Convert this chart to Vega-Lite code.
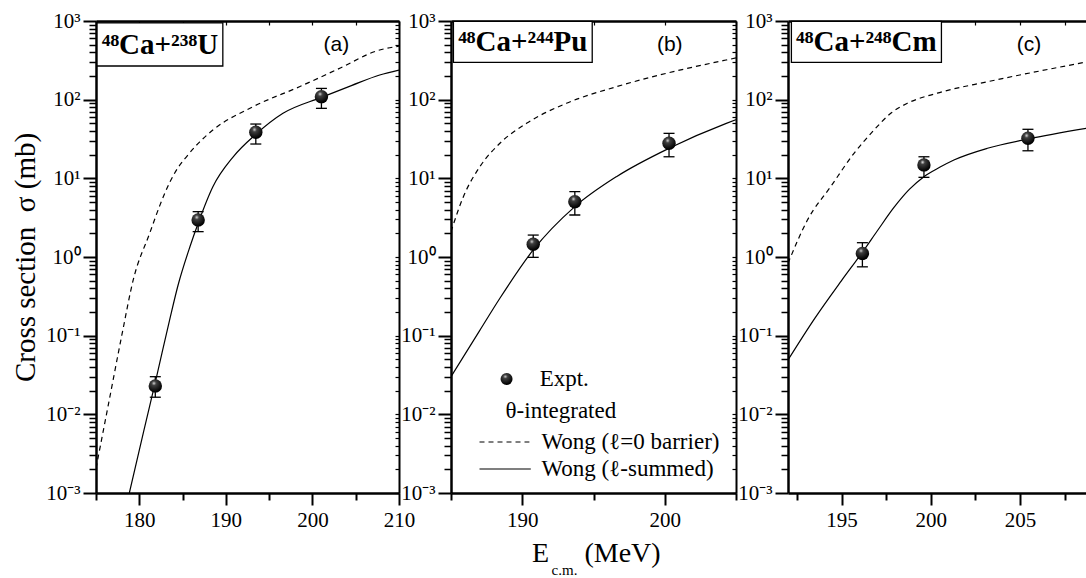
{
  "$schema": "https://vega.github.io/schema/vega-lite/v6.json",
  "autosize": {"type": "pad"},
  "padding": {"left": 11, "top": 10, "right": 0, "bottom": 0},
  "background": "white",
  "config": {
    "view": {"stroke": null},
    "font": "Liberation Serif",
    "axis": {"domainColor": "black", "tickColor": "black", "labelColor": "black", "titleColor": "black", "grid": false, "labelFont": "Liberation Serif", "labelFontSize": 21, "titleFont": "Liberation Serif", "titleFontWeight": "normal", "titleFontSize": 28, "labelFlush": false, "labelOverlap": false, "labelBound": false}
  },
  "datasets": {
    "curves": [
      {"panel": "a", "model": "l0", "E": 175.0, "sigma": 0.00206},
      {"panel": "a", "model": "l0", "E": 176.5, "sigma": 0.0146},
      {"panel": "a", "model": "l0", "E": 178.0, "sigma": 0.1035},
      {"panel": "a", "model": "l0", "E": 179.3, "sigma": 0.511},
      {"panel": "a", "model": "l0", "E": 181.2, "sigma": 2.0},
      {"panel": "a", "model": "l0", "E": 182.4, "sigma": 4.6},
      {"panel": "a", "model": "l0", "E": 183.54, "sigma": 9.0},
      {"panel": "a", "model": "l0", "E": 184.5, "sigma": 13.8},
      {"panel": "a", "model": "l0", "E": 185.45, "sigma": 18.8},
      {"panel": "a", "model": "l0", "E": 186.9, "sigma": 28.5},
      {"panel": "a", "model": "l0", "E": 188.5, "sigma": 41.1},
      {"panel": "a", "model": "l0", "E": 193.15, "sigma": 81.5},
      {"panel": "a", "model": "l0", "E": 198.5, "sigma": 146},
      {"panel": "a", "model": "l0", "E": 203.0, "sigma": 246},
      {"panel": "a", "model": "l0", "E": 207.77, "sigma": 428},
      {"panel": "a", "model": "l0", "E": 210.0, "sigma": 479},
      {"panel": "a", "model": "sum", "E": 178.85, "sigma": 0.001},
      {"panel": "a", "model": "sum", "E": 180.5, "sigma": 0.00603},
      {"panel": "a", "model": "sum", "E": 182.0, "sigma": 0.0302},
      {"panel": "a", "model": "sum", "E": 183.5, "sigma": 0.158},
      {"panel": "a", "model": "sum", "E": 184.5, "sigma": 0.447},
      {"panel": "a", "model": "sum", "E": 185.85, "sigma": 1.35},
      {"panel": "a", "model": "sum", "E": 186.8, "sigma": 2.69},
      {"panel": "a", "model": "sum", "E": 188.5, "sigma": 7.83},
      {"panel": "a", "model": "sum", "E": 190.85, "sigma": 18.8},
      {"panel": "a", "model": "sum", "E": 193.46, "sigma": 36.3},
      {"panel": "a", "model": "sum", "E": 196.6, "sigma": 67.1},
      {"panel": "a", "model": "sum", "E": 201.04, "sigma": 107},
      {"panel": "a", "model": "sum", "E": 204.5, "sigma": 151},
      {"panel": "a", "model": "sum", "E": 207.77, "sigma": 206},
      {"panel": "a", "model": "sum", "E": 210.0, "sigma": 238},
      {"panel": "b", "model": "l0", "E": 185.0, "sigma": 2.10},
      {"panel": "b", "model": "l0", "E": 185.87, "sigma": 5.85},
      {"panel": "b", "model": "l0", "E": 187.03, "sigma": 14.1},
      {"panel": "b", "model": "l0", "E": 188.43, "sigma": 27.9},
      {"panel": "b", "model": "l0", "E": 190.3, "sigma": 50.0},
      {"panel": "b", "model": "l0", "E": 193.1, "sigma": 89.9},
      {"panel": "b", "model": "l0", "E": 196.6, "sigma": 146},
      {"panel": "b", "model": "l0", "E": 200.1, "sigma": 216},
      {"panel": "b", "model": "l0", "E": 204.3, "sigma": 319},
      {"panel": "b", "model": "l0", "E": 205.0, "sigma": 339},
      {"panel": "b", "model": "sum", "E": 185.0, "sigma": 0.0301},
      {"panel": "b", "model": "sum", "E": 187.0, "sigma": 0.115},
      {"panel": "b", "model": "sum", "E": 188.43, "sigma": 0.299},
      {"panel": "b", "model": "sum", "E": 190.77, "sigma": 1.23},
      {"panel": "b", "model": "sum", "E": 193.69, "sigma": 4.37},
      {"panel": "b", "model": "sum", "E": 196.61, "sigma": 10.5},
      {"panel": "b", "model": "sum", "E": 200.3, "sigma": 24.1},
      {"panel": "b", "model": "sum", "E": 204.32, "sigma": 50.0},
      {"panel": "b", "model": "sum", "E": 205.0, "sigma": 55.6},
      {"panel": "c", "model": "l0", "E": 192.0, "sigma": 0.832},
      {"panel": "c", "model": "l0", "E": 193.09, "sigma": 2.95},
      {"panel": "c", "model": "l0", "E": 194.39, "sigma": 7.83},
      {"panel": "c", "model": "l0", "E": 195.7, "sigma": 20.8},
      {"panel": "c", "model": "l0", "E": 196.82, "sigma": 41.1},
      {"panel": "c", "model": "l0", "E": 197.76, "sigma": 67.1},
      {"panel": "c", "model": "l0", "E": 198.69, "sigma": 89.9},
      {"panel": "c", "model": "l0", "E": 200.37, "sigma": 121},
      {"panel": "c", "model": "l0", "E": 203.18, "sigma": 169},
      {"panel": "c", "model": "l0", "E": 206.91, "sigma": 251},
      {"panel": "c", "model": "l0", "E": 208.76, "sigma": 302},
      {"panel": "c", "model": "sum", "E": 192.0, "sigma": 0.0491},
      {"panel": "c", "model": "sum", "E": 193.5, "sigma": 0.166},
      {"panel": "c", "model": "sum", "E": 195.0, "sigma": 0.501},
      {"panel": "c", "model": "sum", "E": 196.17, "sigma": 1.15},
      {"panel": "c", "model": "sum", "E": 197.0, "sigma": 2.14},
      {"panel": "c", "model": "sum", "E": 197.94, "sigma": 4.27},
      {"panel": "c", "model": "sum", "E": 198.8, "sigma": 7.24},
      {"panel": "c", "model": "sum", "E": 199.62, "sigma": 10.5},
      {"panel": "c", "model": "sum", "E": 200.5, "sigma": 13.8},
      {"panel": "c", "model": "sum", "E": 201.3, "sigma": 17.1},
      {"panel": "c", "model": "sum", "E": 203.18, "sigma": 24.1},
      {"panel": "c", "model": "sum", "E": 205.45, "sigma": 31.6},
      {"panel": "c", "model": "sum", "E": 208.76, "sigma": 43.3}
    ],
    "expt": [
      {"panel": "a", "E": 181.85, "sigma": 0.0229, "lo": 0.0165, "hi": 0.0301},
      {"panel": "a", "E": 186.8, "sigma": 2.95, "lo": 2.1, "hi": 3.77},
      {"panel": "a", "E": 193.46, "sigma": 38.5, "lo": 27.3, "hi": 49},
      {"panel": "a", "E": 201.04, "sigma": 109, "lo": 77.6, "hi": 139},
      {"panel": "b", "E": 190.77, "sigma": 1.45, "lo": 0.99, "hi": 1.9},
      {"panel": "b", "E": 193.69, "sigma": 5.05, "lo": 3.42, "hi": 6.77},
      {"panel": "b", "E": 200.3, "sigma": 27.9, "lo": 18.8, "hi": 37.3},
      {"panel": "c", "E": 196.17, "sigma": 1.11, "lo": 0.75, "hi": 1.52},
      {"panel": "c", "E": 199.62, "sigma": 14.8, "lo": 10.3, "hi": 18.8},
      {"panel": "c", "E": 205.45, "sigma": 32.3, "lo": 22.4, "hi": 42}
    ]
  },
  "bounds": "flush",
  "spacing": 52,
  "hconcat": [
    {
      "width": 303, "height": 472,
      "resolve": {"axis": {"x": "independent", "y": "independent"}},
      "layer": [
        {
          "data": {"name": "curves"},
          "transform": [{"filter": "datum.panel === 'a' && datum.model === 'l0'"}],
          "mark": {"type": "line", "interpolate": "monotone", "color": "black", "strokeWidth": 1.2, "strokeDash": [5, 4], "clip": true},
          "encoding": {
            "x": {"field": "E", "type": "quantitative", "scale": {"domain": [175, 210], "nice": false, "zero": false},
              "axis": {"orient": "bottom", "values": [180, 190, 200, 210], "tickSize": 12, "tickWidth": 2, "domainWidth": 2.5, "labelPadding": 4, "labelFont": "Liberation Serif", "labelFontSize": 21, "title": null}},
            "y": {"field": "sigma", "type": "quantitative", "scale": {"type": "log", "domain": [0.001, 1000], "nice": false},
              "axis": {"orient": "left", "values": [0.001, 0.01, 0.1, 1, 10, 100, 1000], "tickSize": 13, "tickWidth": 2, "domainWidth": 2.5, "labelPadding": 3, "labelFont": "Liberation Serif", "labelFontSize": 21,
                "labelExpr": "'10' + ['\u207b\u00b3','\u207b\u00b2','\u207b\u00b9','\u2070','\u00b9','\u00b2','\u00b3'][round(log(datum.value)/LN10)+3]",
                "title": "Cross section\u2002\u03c3 (mb)", "titleFont": "Liberation Serif", "titleX": -71, "titleY": 236, "titleBaseline": "middle", "titleFontSize": 29}}
          }
        },
        {
          "data": {"name": "curves"},
          "transform": [{"filter": "datum.panel === 'a' && datum.model === 'sum'"}],
          "mark": {"type": "line", "interpolate": "monotone", "color": "black", "strokeWidth": 1.2, "clip": true},
          "encoding": {
            "x": {"field": "E", "type": "quantitative", "scale": {"domain": [175, 210], "nice": false, "zero": false},
              "axis": {"orient": "bottom", "values": [175, 185, 195, 205], "tickSize": 7, "tickWidth": 2, "labels": false, "domain": false, "title": null}},
            "y": {"field": "sigma", "type": "quantitative", "scale": {"type": "log", "domain": [0.001, 1000], "nice": false},
              "axis": {"orient": "left", "values": [0.002,0.003,0.004,0.005,0.006,0.007,0.008,0.009,0.02,0.03,0.04,0.05,0.06,0.07,0.08,0.09,0.2,0.3,0.4,0.5,0.6,0.7,0.8,0.9,2,3,4,5,6,7,8,9,20,30,40,50,60,70,80,90,200,300,400,500,600,700,800,900], "tickSize": 7, "tickWidth": 1.5, "labels": false, "domain": false, "title": null}}
          }
        },
        {
          "data": {"name": "expt"},
          "transform": [{"filter": "datum.panel === 'a'"}],
          "mark": {"type": "rule", "color": "black", "strokeWidth": 1.3},
          "encoding": {
            "x": {"field": "E", "type": "quantitative", "scale": {"domain": [175, 210], "nice": false, "zero": false},
              "axis": {"orient": "top", "values": [175, 180, 185, 190, 195, 200, 205, 210], "tickSize": -4, "tickWidth": 1.2, "labels": false, "domainWidth": 2.5, "title": null}},
            "y": {"field": "lo", "type": "quantitative", "scale": {"type": "log", "domain": [0.001, 1000], "nice": false},
              "axis": {"orient": "right", "values": [0.001,0.002,0.003,0.004,0.005,0.006,0.007,0.008,0.009,0.01,0.02,0.03,0.04,0.05,0.06,0.07,0.08,0.09,0.1,0.2,0.3,0.4,0.5,0.6,0.7,0.8,0.9,1,2,3,4,5,6,7,8,9,10,20,30,40,50,60,70,80,90,100,200,300,400,500,600,700,800,900,1000], "tickSize": -4, "tickWidth": 1.2, "labels": false, "domainWidth": 2, "title": null}},
            "y2": {"field": "hi"}
          }
        },
        {
          "data": {"name": "expt"},
          "transform": [{"filter": "datum.panel === 'a'"}],
          "mark": {"type": "tick", "orient": "horizontal", "color": "black", "size": 11, "thickness": 1.3, "opacity": 1},
          "encoding": {
            "x": {"field": "E", "type": "quantitative", "axis": null},
            "y": {"field": "lo", "type": "quantitative", "axis": null}
          }
        },
        {
          "data": {"name": "expt"},
          "transform": [{"filter": "datum.panel === 'a'"}],
          "mark": {"type": "tick", "orient": "horizontal", "color": "black", "size": 11, "thickness": 1.3, "opacity": 1},
          "encoding": {
            "x": {"field": "E", "type": "quantitative", "axis": null},
            "y": {"field": "hi", "type": "quantitative", "axis": null}
          }
        },
        {
          "data": {"name": "expt"},
          "transform": [{"filter": "datum.panel === 'a'"}],
          "mark": {"type": "circle", "size": 180, "opacity": 1, "strokeWidth": 0,
            "fill": {"gradient": "radial", "x1": 0.4, "y1": 0.3, "r1": 0, "x2": 0.4, "y2": 0.3, "r2": 0.65, "stops": [{"offset": 0, "color": "#e0e0e0"}, {"offset": 0.25, "color": "#404040"}, {"offset": 1, "color": "#000000"}]}},
          "encoding": {
            "x": {"field": "E", "type": "quantitative", "axis": null},
            "y": {"field": "sigma", "type": "quantitative", "axis": null}
          }
        },
        {
          "data": {"values": [{}]},
          "mark": {"type": "rect", "fill": "white", "stroke": "black", "strokeWidth": 1.3},
          "encoding": {
            "x": {"datum": 175.12, "type": "quantitative", "axis": null},
            "x2": {"datum": 189.65},
            "y": {"datum": 944, "type": "quantitative", "axis": null},
            "y2": {"datum": 268}
          }
        },
        {
          "data": {"values": [{}]},
          "mark": {"type": "text", "text": "\u2074\u2078Ca+\u00b2\u00b3\u2078U", "font": "Liberation Serif", "fontWeight": "bold", "fontSize": 29, "align": "center", "baseline": "middle", "color": "black"},
          "encoding": {
            "x": {"datum": 182.38, "type": "quantitative", "axis": null},
            "y": {"datum": 502, "type": "quantitative", "axis": null}
          }
        },
        {
          "data": {"values": [{}]},
          "mark": {"type": "text", "text": "(a)", "font": "Liberation Sans", "fontSize": 21, "align": "center", "baseline": "middle", "color": "black"},
          "encoding": {
            "x": {"datum": 202.77, "type": "quantitative", "axis": null},
            "y": {"datum": 495, "type": "quantitative", "axis": null}
          }
        }
      ]
    },
    {
      "width": 285, "height": 472,
      "resolve": {"axis": {"x": "independent", "y": "independent"}},
      "layer": [
        {
          "data": {"name": "curves"},
          "transform": [{"filter": "datum.panel === 'b' && datum.model === 'l0'"}],
          "mark": {"type": "line", "interpolate": "monotone", "color": "black", "strokeWidth": 1.2, "strokeDash": [5, 4], "clip": true},
          "encoding": {
            "x": {"field": "E", "type": "quantitative", "scale": {"domain": [185, 205], "nice": false, "zero": false},
              "axis": {"orient": "bottom", "values": [190, 200], "tickSize": 12, "tickWidth": 2, "domainWidth": 2.5, "labelPadding": 4, "labelFont": "Liberation Serif", "labelFontSize": 21,
                "title": "E", "titleFont": "Liberation Serif", "titleX": 89, "titleY": 60, "titleBaseline": "middle", "titleAlign": "center", "titleFontSize": 28}},
            "y": {"field": "sigma", "type": "quantitative", "scale": {"type": "log", "domain": [0.001, 1000], "nice": false},
              "axis": {"orient": "left", "values": [0.001, 0.01, 0.1, 1, 10, 100, 1000], "tickSize": 13, "tickWidth": 2, "domainWidth": 2.5, "labelPadding": 3, "labelFont": "Liberation Serif", "labelFontSize": 21,
                "labelExpr": "'10' + ['\u207b\u00b3','\u207b\u00b2','\u207b\u00b9','\u2070','\u00b9','\u00b2','\u00b3'][round(log(datum.value)/LN10)+3]", "title": null}}
          }
        },
        {
          "data": {"name": "curves"},
          "transform": [{"filter": "datum.panel === 'b' && datum.model === 'sum'"}],
          "mark": {"type": "line", "interpolate": "monotone", "color": "black", "strokeWidth": 1.2, "clip": true},
          "encoding": {
            "x": {"field": "E", "type": "quantitative", "scale": {"domain": [185, 205], "nice": false, "zero": false},
              "axis": {"orient": "bottom", "values": [185, 195, 205], "tickSize": 7, "tickWidth": 2, "labels": false, "domain": false,
                "title": "c.m.", "titleFont": "Liberation Serif", "titleX": 113, "titleY": 76, "titleBaseline": "middle", "titleAlign": "center", "titleFontSize": 15}},
            "y": {"field": "sigma", "type": "quantitative", "scale": {"type": "log", "domain": [0.001, 1000], "nice": false},
              "axis": {"orient": "left", "values": [0.002,0.003,0.004,0.005,0.006,0.007,0.008,0.009,0.02,0.03,0.04,0.05,0.06,0.07,0.08,0.09,0.2,0.3,0.4,0.5,0.6,0.7,0.8,0.9,2,3,4,5,6,7,8,9,20,30,40,50,60,70,80,90,200,300,400,500,600,700,800,900], "tickSize": 7, "tickWidth": 1.5, "labels": false, "domain": false, "title": null}}
          }
        },
        {
          "data": {"name": "expt"},
          "transform": [{"filter": "datum.panel === 'b'"}],
          "mark": {"type": "rule", "color": "black", "strokeWidth": 1.3},
          "encoding": {
            "x": {"field": "E", "type": "quantitative", "scale": {"domain": [185, 205], "nice": false, "zero": false},
              "axis": {"orient": "top", "values": [185, 190, 195, 200, 205], "tickSize": -4, "tickWidth": 1.2, "labels": false, "domainWidth": 2.5, "title": null}},
            "y": {"field": "lo", "type": "quantitative", "scale": {"type": "log", "domain": [0.001, 1000], "nice": false},
              "axis": {"orient": "right", "values": [0.001,0.002,0.003,0.004,0.005,0.006,0.007,0.008,0.009,0.01,0.02,0.03,0.04,0.05,0.06,0.07,0.08,0.09,0.1,0.2,0.3,0.4,0.5,0.6,0.7,0.8,0.9,1,2,3,4,5,6,7,8,9,10,20,30,40,50,60,70,80,90,100,200,300,400,500,600,700,800,900,1000], "tickSize": -4, "tickWidth": 1.2, "labels": false, "domainWidth": 2, "title": null}},
            "y2": {"field": "hi"}
          }
        },
        {
          "data": {"name": "expt"},
          "transform": [{"filter": "datum.panel === 'b'"}],
          "mark": {"type": "tick", "orient": "horizontal", "color": "black", "size": 11, "thickness": 1.3, "opacity": 1},
          "encoding": {
            "x": {"field": "E", "type": "quantitative", "scale": {"domain": [185, 205], "nice": false, "zero": false},
              "axis": {"orient": "bottom", "ticks": false, "labels": false, "domain": false, "grid": false,
                "title": "(MeV)", "titleFont": "Liberation Serif", "titleX": 171, "titleY": 60, "titleBaseline": "middle", "titleAlign": "center", "titleFontSize": 28}},
            "y": {"field": "lo", "type": "quantitative", "axis": null}
          }
        },
        {
          "data": {"name": "expt"},
          "transform": [{"filter": "datum.panel === 'b'"}],
          "mark": {"type": "tick", "orient": "horizontal", "color": "black", "size": 11, "thickness": 1.3, "opacity": 1},
          "encoding": {
            "x": {"field": "E", "type": "quantitative", "axis": null},
            "y": {"field": "hi", "type": "quantitative", "axis": null}
          }
        },
        {
          "data": {"name": "expt"},
          "transform": [{"filter": "datum.panel === 'b'"}],
          "mark": {"type": "circle", "size": 180, "opacity": 1, "strokeWidth": 0,
            "fill": {"gradient": "radial", "x1": 0.4, "y1": 0.3, "r1": 0, "x2": 0.4, "y2": 0.3, "r2": 0.65, "stops": [{"offset": 0, "color": "#e0e0e0"}, {"offset": 0.25, "color": "#404040"}, {"offset": 1, "color": "#000000"}]}},
          "encoding": {
            "x": {"field": "E", "type": "quantitative", "axis": null},
            "y": {"field": "sigma", "type": "quantitative", "axis": null}
          }
        },
        {
          "data": {"values": [{}]},
          "mark": {"type": "rect", "fill": "white", "stroke": "black", "strokeWidth": 1.3},
          "encoding": {
            "x": {"datum": 185.17, "type": "quantitative", "axis": null},
            "x2": {"datum": 194.91},
            "y": {"datum": 990, "type": "quantitative", "axis": null},
            "y2": {"datum": 298.5}
          }
        },
        {
          "data": {"values": [{}]},
          "mark": {"type": "text", "text": "\u2074\u2078Ca+\u00b2\u2074\u2074Pu", "font": "Liberation Serif", "fontWeight": "bold", "fontSize": 29, "align": "center", "baseline": "middle", "color": "black"},
          "encoding": {
            "x": {"datum": 190.04, "type": "quantitative", "axis": null},
            "y": {"datum": 547, "type": "quantitative", "axis": null}
          }
        },
        {
          "data": {"values": [{}]},
          "mark": {"type": "text", "text": "(b)", "font": "Liberation Sans", "fontSize": 21, "align": "center", "baseline": "middle", "color": "black"},
          "encoding": {
            "x": {"datum": 200.35, "type": "quantitative", "axis": null},
            "y": {"datum": 495, "type": "quantitative", "axis": null}
          }
        },
        {
          "data": {"values": [{}]},
          "mark": {"type": "circle", "size": 144, "opacity": 1, "strokeWidth": 0,
            "fill": {"gradient": "radial", "x1": 0.4, "y1": 0.3, "r1": 0, "x2": 0.4, "y2": 0.3, "r2": 0.65, "stops": [{"offset": 0, "color": "#e0e0e0"}, {"offset": 0.25, "color": "#404040"}, {"offset": 1, "color": "#000000"}]}},
          "encoding": {
            "x": {"datum": 188.9, "type": "quantitative", "axis": null},
            "y": {"datum": 0.0281, "type": "quantitative", "axis": null}
          }
        },
        {
          "data": {"values": [{}]},
          "mark": {"type": "text", "text": "Expt.", "font": "Liberation Serif", "fontSize": 23, "align": "left", "baseline": "middle", "color": "black"},
          "encoding": {
            "x": {"datum": 191.22, "type": "quantitative", "axis": null},
            "y": {"datum": 0.0281, "type": "quantitative", "axis": null}
          }
        },
        {
          "data": {"values": [{}]},
          "mark": {"type": "text", "text": "\u03b8-integrated", "font": "Liberation Serif", "fontSize": 23, "align": "left", "baseline": "middle", "color": "black"},
          "encoding": {
            "x": {"datum": 188.83, "type": "quantitative", "axis": null},
            "y": {"datum": 0.01104, "type": "quantitative", "axis": null}
          }
        },
        {
          "data": {"values": [{}]},
          "mark": {"type": "rule", "color": "black", "strokeWidth": 1.2, "strokeDash": [5, 4]},
          "encoding": {
            "x": {"datum": 187.0, "type": "quantitative", "axis": null},
            "x2": {"datum": 190.5},
            "y": {"datum": 0.00445, "type": "quantitative", "axis": null}
          }
        },
        {
          "data": {"values": [{}]},
          "mark": {"type": "text", "text": "Wong (\u2113=0 barrier)", "font": "Liberation Serif", "fontSize": 23, "align": "left", "baseline": "middle", "color": "black"},
          "encoding": {
            "x": {"datum": 191.35, "type": "quantitative", "axis": null},
            "y": {"datum": 0.00445, "type": "quantitative", "axis": null}
          }
        },
        {
          "data": {"values": [{}]},
          "mark": {"type": "rule", "color": "black", "strokeWidth": 1.2},
          "encoding": {
            "x": {"datum": 187.0, "type": "quantitative", "axis": null},
            "x2": {"datum": 190.6},
            "y": {"datum": 0.00202, "type": "quantitative", "axis": null}
          }
        },
        {
          "data": {"values": [{}]},
          "mark": {"type": "text", "text": "Wong (\u2113-summed)", "font": "Liberation Serif", "fontSize": 23, "align": "left", "baseline": "middle", "color": "black"},
          "encoding": {
            "x": {"datum": 191.35, "type": "quantitative", "axis": null},
            "y": {"datum": 0.00202, "type": "quantitative", "axis": null}
          }
        }
      ]
    },
    {
      "width": 299, "height": 472,
      "resolve": {"axis": {"x": "independent", "y": "independent"}},
      "layer": [
        {
          "data": {"name": "curves"},
          "transform": [{"filter": "datum.panel === 'c' && datum.model === 'l0'"}],
          "mark": {"type": "line", "interpolate": "monotone", "color": "black", "strokeWidth": 1.2, "strokeDash": [5, 4], "clip": true},
          "encoding": {
            "x": {"field": "E", "type": "quantitative", "scale": {"domain": [192, 208.76], "nice": false, "zero": false},
              "axis": {"orient": "bottom", "values": [195, 200, 205], "tickSize": 12, "tickWidth": 2, "domainWidth": 2.5, "labelPadding": 4, "labelFont": "Liberation Serif", "labelFontSize": 21, "title": null}},
            "y": {"field": "sigma", "type": "quantitative", "scale": {"type": "log", "domain": [0.001, 1000], "nice": false},
              "axis": {"orient": "left", "values": [0.001, 0.01, 0.1, 1, 10, 100, 1000], "tickSize": 13, "tickWidth": 2, "domainWidth": 2.5, "labelPadding": 3, "labelFont": "Liberation Serif", "labelFontSize": 21,
                "labelExpr": "'10' + ['\u207b\u00b3','\u207b\u00b2','\u207b\u00b9','\u2070','\u00b9','\u00b2','\u00b3'][round(log(datum.value)/LN10)+3]", "title": null}}
          }
        },
        {
          "data": {"name": "curves"},
          "transform": [{"filter": "datum.panel === 'c' && datum.model === 'sum'"}],
          "mark": {"type": "line", "interpolate": "monotone", "color": "black", "strokeWidth": 1.2, "clip": true},
          "encoding": {
            "x": {"field": "E", "type": "quantitative", "scale": {"domain": [192, 208.76], "nice": false, "zero": false},
              "axis": {"orient": "bottom", "values": [192.5, 197.5, 202.5, 207.5], "tickSize": 7, "tickWidth": 2, "labels": false, "domain": false, "title": null}},
            "y": {"field": "sigma", "type": "quantitative", "scale": {"type": "log", "domain": [0.001, 1000], "nice": false},
              "axis": {"orient": "left", "values": [0.002,0.003,0.004,0.005,0.006,0.007,0.008,0.009,0.02,0.03,0.04,0.05,0.06,0.07,0.08,0.09,0.2,0.3,0.4,0.5,0.6,0.7,0.8,0.9,2,3,4,5,6,7,8,9,20,30,40,50,60,70,80,90,200,300,400,500,600,700,800,900], "tickSize": 7, "tickWidth": 1.5, "labels": false, "domain": false, "title": null}}
          }
        },
        {
          "data": {"name": "expt"},
          "transform": [{"filter": "datum.panel === 'c'"}],
          "mark": {"type": "rule", "color": "black", "strokeWidth": 1.3},
          "encoding": {
            "x": {"field": "E", "type": "quantitative", "scale": {"domain": [192, 208.76], "nice": false, "zero": false},
              "axis": {"orient": "top", "values": [192.5, 195, 197.5, 200, 202.5, 205, 207.5], "tickSize": -4, "tickWidth": 1.2, "labels": false, "domainWidth": 2.5, "title": null}},
            "y": {"field": "lo", "type": "quantitative", "scale": {"type": "log", "domain": [0.001, 1000], "nice": false}, "axis": null},
            "y2": {"field": "hi"}
          }
        },
        {
          "data": {"name": "expt"},
          "transform": [{"filter": "datum.panel === 'c'"}],
          "mark": {"type": "tick", "orient": "horizontal", "color": "black", "size": 11, "thickness": 1.3, "opacity": 1},
          "encoding": {
            "x": {"field": "E", "type": "quantitative", "axis": null},
            "y": {"field": "lo", "type": "quantitative", "axis": null}
          }
        },
        {
          "data": {"name": "expt"},
          "transform": [{"filter": "datum.panel === 'c'"}],
          "mark": {"type": "tick", "orient": "horizontal", "color": "black", "size": 11, "thickness": 1.3, "opacity": 1},
          "encoding": {
            "x": {"field": "E", "type": "quantitative", "axis": null},
            "y": {"field": "hi", "type": "quantitative", "axis": null}
          }
        },
        {
          "data": {"name": "expt"},
          "transform": [{"filter": "datum.panel === 'c'"}],
          "mark": {"type": "circle", "size": 180, "opacity": 1, "strokeWidth": 0,
            "fill": {"gradient": "radial", "x1": 0.4, "y1": 0.3, "r1": 0, "x2": 0.4, "y2": 0.3, "r2": 0.65, "stops": [{"offset": 0, "color": "#e0e0e0"}, {"offset": 0.25, "color": "#404040"}, {"offset": 1, "color": "#000000"}]}},
          "encoding": {
            "x": {"field": "E", "type": "quantitative", "axis": null},
            "y": {"field": "sigma", "type": "quantitative", "axis": null}
          }
        },
        {
          "data": {"values": [{}]},
          "mark": {"type": "rect", "fill": "white", "stroke": "black", "strokeWidth": 1.3},
          "encoding": {
            "x": {"datum": 192.19, "type": "quantitative", "axis": null},
            "x2": {"datum": 200.6},
            "y": {"datum": 990, "type": "quantitative", "axis": null},
            "y2": {"datum": 298.5}
          }
        },
        {
          "data": {"values": [{}]},
          "mark": {"type": "text", "text": "\u2074\u2078Ca+\u00b2\u2074\u2078Cm", "font": "Liberation Serif", "fontWeight": "bold", "fontSize": 29, "align": "center", "baseline": "middle", "color": "black"},
          "encoding": {
            "x": {"datum": 196.39, "type": "quantitative", "axis": null},
            "y": {"datum": 547, "type": "quantitative", "axis": null}
          }
        },
        {
          "data": {"values": [{}]},
          "mark": {"type": "text", "text": "(c)", "font": "Liberation Sans", "fontSize": 21, "align": "center", "baseline": "middle", "color": "black"},
          "encoding": {
            "x": {"datum": 205.51, "type": "quantitative", "axis": null},
            "y": {"datum": 495, "type": "quantitative", "axis": null}
          }
        }
      ]
    }
  ]
}
